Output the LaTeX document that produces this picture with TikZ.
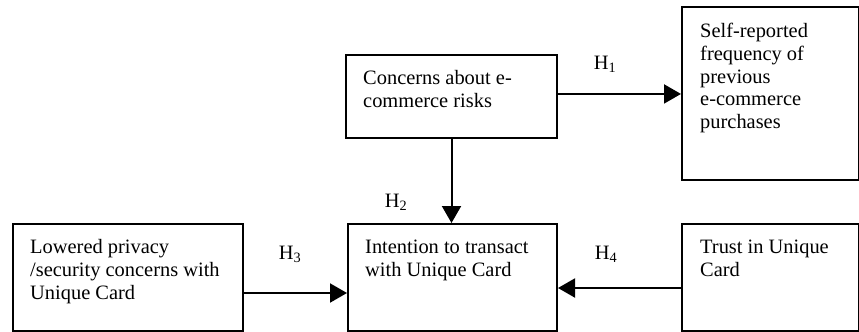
\documentclass[tikz,border=0pt]{standalone}
\usepackage{fontspec}
\setmainfont{Liberation Serif}
\usetikzlibrary{arrows.meta,calc}
\begin{document}
\begin{tikzpicture}[x=1bp,y=-1bp,
  box/.style={draw,line width=2bp,inner sep=0},
  txt/.style={anchor=north west,inner sep=0,align=left,font=\fontsize{20.5}{23}\selectfont},
  lbl/.style={inner sep=0,font=\fontsize{20.5}{23}\selectfont},
  arr/.style={line width=2bp,-{Triangle[length=17bp,width=19bp]}}]
\useasboundingbox (0,0) rectangle (859,331);
% boxes
\node[box,minimum width=211bp,minimum height=83bp,anchor=north west] (cr) at (345,54) {};
\node[box,minimum width=177bp,minimum height=173bp,anchor=north west] (sr) at (681,6) {};
\node[box,minimum width=230bp,minimum height=107bp,anchor=north west] (lp) at (12,223) {};
\node[box,minimum width=209bp,minimum height=107bp,anchor=north west] (it) at (347,223) {};
\node[box,minimum width=177bp,minimum height=107bp,anchor=north west] (tr) at (681,223) {};
% texts
\node[txt] (crt) at ($(cr.north west)+(18,14)$) {\strut Concerns about e-\\commerce risks};
\node[txt] (srt) at ($(sr.north west)+(19,15)$) {\strut Self-reported\\frequency of\\previous\\e-commerce\\purchases};
\node[txt] (lpt) at ($(lp.north west)+(18,14)$) {\strut Lowered privacy\\/security concerns with\\Unique Card};
\node[txt] (itt) at ($(it.north west)+(18,14)$) {\strut Intention to transact\\with Unique Card};
\node[txt] (trt) at ($(tr.north west)+(19,14)$) {\strut Trust in Unique\\Card};
% arrows
\coordinate (a1) at ($(cr.north east)!0.47!(cr.south east)$);
\draw[arr] (a1) -- (a1 -| sr.west);
\draw[arr] (cr.south) -- (cr.south |- it.north);
\coordinate (a3) at ($(lp.north west)+(230,70)$);
\draw[arr] (a3) -- (a3 -| it.west);
\coordinate (a4) at ($(tr.north west)+(0,65)$);
\draw[arr] (a4) -- (a4 -| it.east);
% labels
\node[lbl] (h1) at (605,64) {H\textsubscript{1}};
\node[lbl] (h2) at (396,202) {H\textsubscript{2}};
\node[lbl] (h3) at (290,254) {H\textsubscript{3}};
\node[lbl] (h4) at (606,254) {H\textsubscript{4}};
\end{tikzpicture}
\end{document}
